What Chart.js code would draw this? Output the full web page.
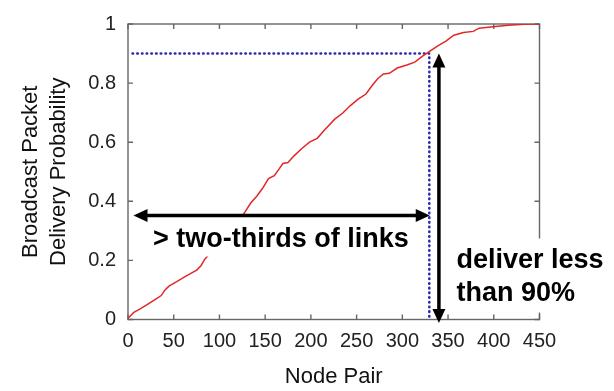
<!DOCTYPE html>
<html>
<head>
<meta charset="utf-8">
<script src="https://cdn.jsdelivr.net/npm/chart.js@4.4.1/dist/chart.umd.min.js"></script>
<style>
  html, body { margin: 0; padding: 0; background: #fff; }
  #wrap { width: 614px; height: 391px; }
</style>
</head>
<body>
<div id="wrap"><canvas id="chart" width="614" height="391"></canvas></div>
<script>
// red curve: sorted delivery probability per node pair
const nodePair = [0, 6.4, 12.8, 21.3, 29.9, 36.3, 40.5, 44.8, 53.3, 61.9, 68.3, 75.5, 79.8, 84,
  97, 110, 123.7, 128, 134.4, 140.8, 147.2, 153.6, 160, 165.1, 169.4, 174.9, 181.3, 189.8,
  198.4, 206.9, 215.4, 226.1, 234.6, 243.2, 251.7, 260.2, 266.6, 273, 279.4, 285.8, 294.4,
  305, 313.6, 322.1, 330.6, 339.2, 347.7, 356.3, 366.9, 377.6, 384, 398.9, 416, 433, 450];
const deliveryProb = [0.004, 0.024, 0.035, 0.051, 0.068, 0.081, 0.1, 0.113, 0.128, 0.144, 0.155, 0.168, 0.182, 0.204,
  0.25, 0.3, 0.346, 0.364, 0.395, 0.417, 0.444, 0.477, 0.487, 0.509, 0.528, 0.531, 0.553, 0.578,
  0.6, 0.613, 0.643, 0.678, 0.698, 0.724, 0.746, 0.763, 0.79, 0.815, 0.831, 0.833, 0.851,
  0.861, 0.871, 0.891, 0.909, 0.927, 0.942, 0.962, 0.971, 0.975, 0.986, 0.991, 0.996, 0.999, 1.0];

// blue dotted 90% guide
const guideX = [5, 329.5, 329.5];
const guideY = [0.9, 0.9, 0];

// black double arrows
const spanArrowX = [6, 330];
const spanArrowY = [0.352, 0.352];
const dropArrowX = [340, 340];
const dropArrowY = [0.9, -0.012];

const xTicks = [0, 50, 100, 150, 200, 250, 300, 350, 400, 450];
const yTicks = [0, 0.2, 0.4, 0.6, 0.8, 1];

const spanLabel = '> two-thirds of links';
const dropLabel = ['deliver less', 'than 90%'];
const xTitle = 'Node Pair';
const yTitle = ['Broadcast Packet', 'Delivery Probability'];

const FONT = "'Liberation Sans', Arial, Helvetica, sans-serif";

function arrowHead(ctx, tx, ty, dx, dy, len, half) {
  // tip at (tx,ty), pointing along (dx,dy)
  const px = -dy, py = dx;
  ctx.beginPath();
  ctx.moveTo(tx, ty);
  ctx.lineTo(tx - dx * len + px * half, ty - dy * len + py * half);
  ctx.lineTo(tx - dx * len - px * half, ty - dy * len - py * half);
  ctx.closePath();
  ctx.fill();
}

function doubleArrow(ctx, x1, y1, x2, y2) {
  const L = Math.hypot(x2 - x1, y2 - y1);
  const dx = (x2 - x1) / L, dy = (y2 - y1) / L;
  const len = 14, half = 6.5;
  ctx.beginPath();
  ctx.moveTo(x1 + dx * len * 0.8, y1 + dy * len * 0.8);
  ctx.lineTo(x2 - dx * len * 0.8, y2 - dy * len * 0.8);
  ctx.stroke();
  arrowHead(ctx, x2, y2, dx, dy, len, half);
  arrowHead(ctx, x1, y1, -dx, -dy, len, half);
}

const framePlugin = {
  id: 'frame',
  beforeDatasetsDraw(chart) {
    const { ctx, chartArea: a, scales: { x, y } } = chart;
    ctx.save();
    ctx.strokeStyle = '#666';
    ctx.lineWidth = 1.4;
    ctx.strokeRect(a.left, a.top, a.right - a.left, a.bottom - a.top);
    ctx.beginPath();
    xTicks.forEach(v => {
      const px = x.getPixelForValue(v);
      ctx.moveTo(px, a.bottom); ctx.lineTo(px, a.bottom - 5);
      ctx.moveTo(px, a.top); ctx.lineTo(px, a.top + 5);
    });
    yTicks.forEach(v => {
      const py = y.getPixelForValue(v);
      ctx.moveTo(a.left, py); ctx.lineTo(a.left + 5, py);
      ctx.moveTo(a.right, py); ctx.lineTo(a.right - 5, py);
    });
    ctx.stroke();
    ctx.restore();
  }
};

const notesPlugin = {
  id: 'notes',
  afterDatasetsDraw(chart) {
    const { ctx, chartArea: a, scales: { x, y } } = chart;
    ctx.save();
    // white label backgrounds hide the curve / frame behind the text
    ctx.fillStyle = '#fff';
    ctx.fillRect(a.left + 22, a.bottom - 105, 272, 42);
    ctx.fillRect(a.right - 89, a.bottom - 81, 170, 74);

    ctx.fillStyle = '#000';
    ctx.font = 'bold 27px ' + FONT;
    ctx.textBaseline = 'alphabetic';
    ctx.textAlign = 'left';
    ctx.fillText(spanLabel, a.left + 25, a.bottom - 72.5);
    dropLabel.forEach((t, i) => ctx.fillText(t, a.right - 83, a.bottom - 51.5 + i * 33));

    ctx.strokeStyle = '#000';
    ctx.lineWidth = 3.5;
    doubleArrow(ctx,
      x.getPixelForValue(spanArrowX[0]), y.getPixelForValue(spanArrowY[0]),
      x.getPixelForValue(spanArrowX[1]), y.getPixelForValue(spanArrowY[1]));
    doubleArrow(ctx,
      x.getPixelForValue(dropArrowX[0]), y.getPixelForValue(dropArrowY[0]),
      x.getPixelForValue(dropArrowX[1]), y.getPixelForValue(dropArrowY[1]));
    ctx.restore();
  }
};

new Chart(document.getElementById('chart'), {
  type: 'line',
  data: {
    datasets: [
      {
        label: 'delivery',
        data: nodePair.map((v, i) => ({ x: v, y: deliveryProb[i] })),
        borderColor: '#e02828',
        borderWidth: 1.5,
        pointRadius: 0,
        tension: 0
      },
      {
        label: '90%',
        data: guideX.map((v, i) => ({ x: v, y: guideY[i] })),
        borderColor: '#2c2ca8',
        borderWidth: 2.6,
        borderDash: [0.5, 4.2],
        borderCapStyle: 'round',
        pointRadius: 0,
        tension: 0
      }
    ]
  },
  options: {
    responsive: false,
    animation: false,
    devicePixelRatio: 1,
    layout: { padding: { left: 0, right: 74.5, top: 15, bottom: 0 } },
    plugins: {
      legend: { display: false },
      tooltip: { enabled: false }
    },
    scales: {
      x: {
        type: 'linear',
        min: 0,
        max: 450,
        grid: { display: false, drawTicks: false },
        border: { display: false },
        afterBuildTicks: s => { s.ticks = xTicks.map(v => ({ value: v })); },
        afterFit: s => { s.height = 71.5; },
        ticks: {
          color: '#222',
          padding: 10,
          maxRotation: 0,
          font: { family: FONT, size: 20 }
        },
        title: {
          display: true,
          text: xTitle,
          color: '#111',
          font: { family: FONT, size: 22, lineHeight: 1.2 },
          padding: { top: 0, bottom: 1 }
        }
      },
      y: {
        min: 0,
        max: 1,
        grid: { display: false, drawTicks: false },
        border: { display: false },
        afterBuildTicks: s => { s.ticks = yTicks.map(v => ({ value: v })); },
        afterFit: s => { s.width = 128; },
        ticks: {
          color: '#222',
          padding: 12,
          font: { family: FONT, size: 20 },
          callback: v => String(v)
        },
        title: {
          display: true,
          text: yTitle,
          color: '#111',
          font: { family: FONT, size: 22, lineHeight: 1.27 },
          padding: { top: 17, bottom: 0 }
        }
      }
    }
  },
  plugins: [framePlugin, notesPlugin]
});
</script>
</body>
</html>
